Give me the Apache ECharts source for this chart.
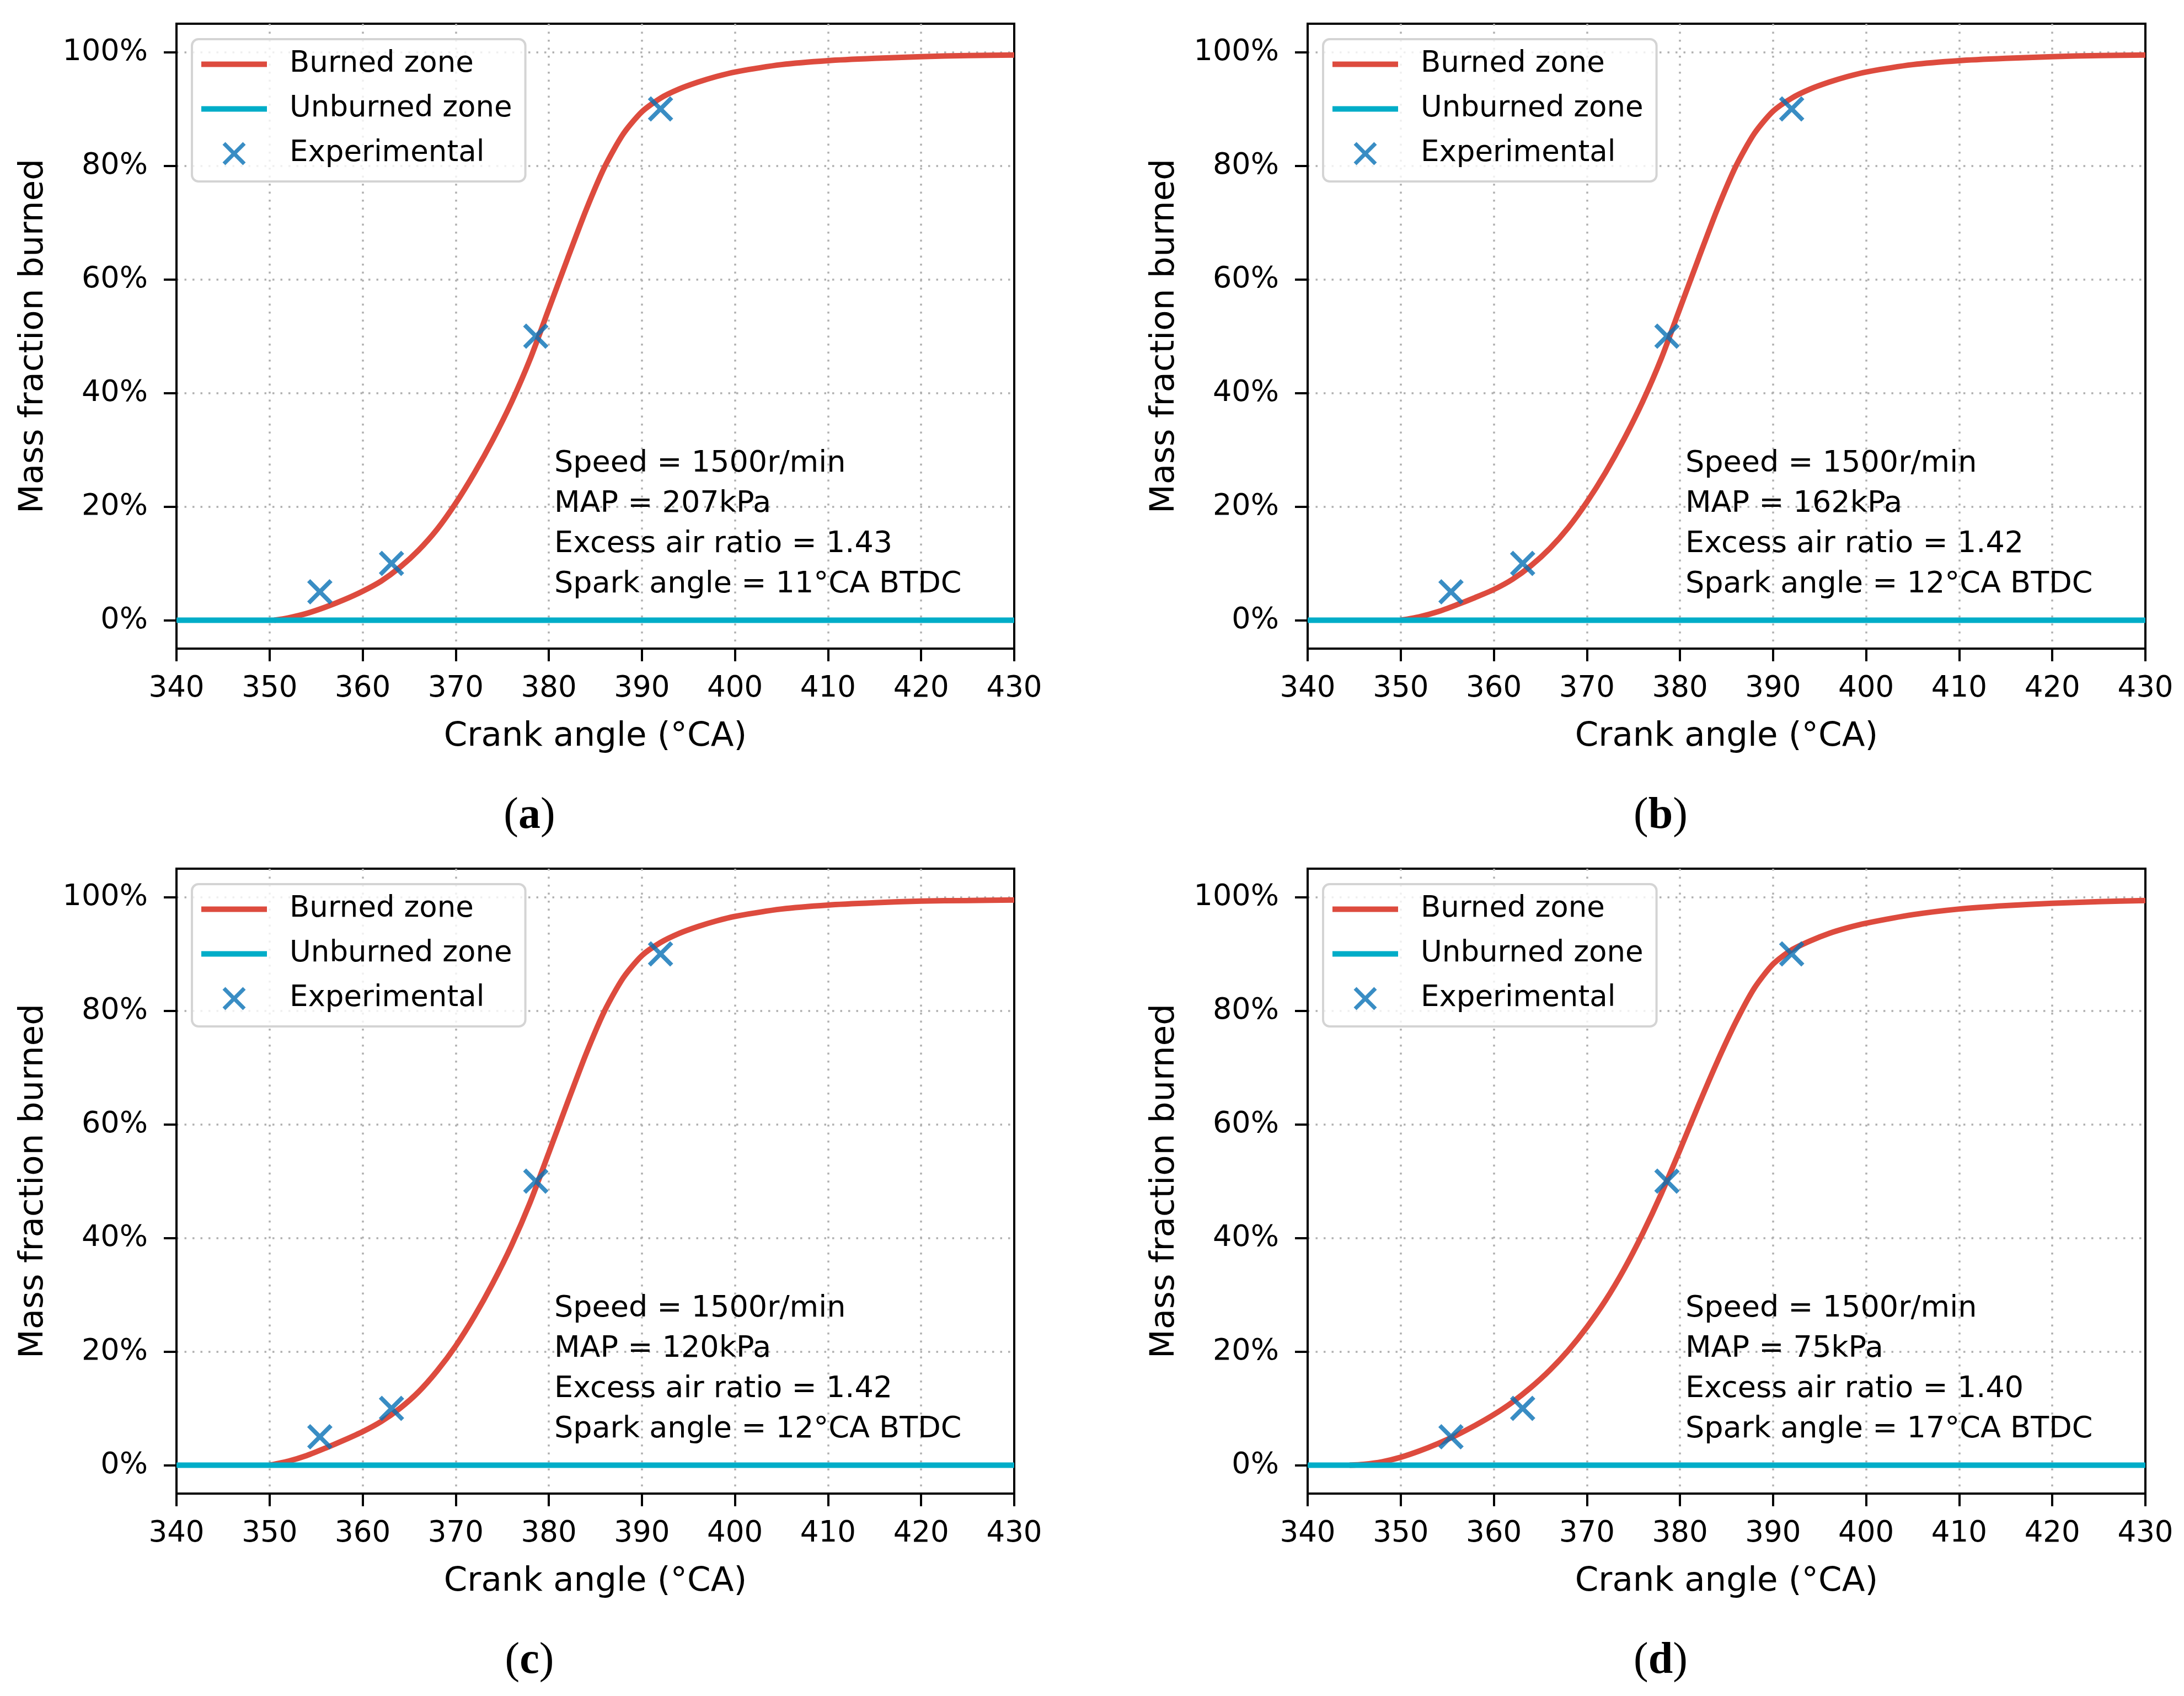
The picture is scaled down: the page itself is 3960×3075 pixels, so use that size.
<!DOCTYPE html>
<html>
<head>
<meta charset="utf-8">
<script src="https://cdn.jsdelivr.net/npm/echarts@6/dist/echarts.min.js"></script>
<style>
html,body{margin:0;padding:0;background:#fff;}
#chart{width:3960px;height:3075px;}
</style>
</head>
<body>
<div id="chart"></div>
<script>
// ---- data ----
const xTickMin = 340, xTickMax = 430, xTickStep = 10;
const yTickValues = [0, 20, 40, 60, 80, 100];

const burnedA = [[350.5,0],[352,0.4],[354,1.2],[356,2.3],[358,3.6],[360,5.1],[362,6.9],[364,9.3],[366,12.3],[368,16.0],[370,20.6],[372,25.9],[374,31.8],[376,38.4],[378,46.0],[380,54.8],[382,63.6],[384,72.2],[386,79.8],[388,85.6],[390,89.5],[392,91.9],[394,93.5],[396,94.7],[398,95.7],[400,96.5],[405,97.8],[410,98.5],[415,98.9],[420,99.2],[425,99.4],[430,99.5]];
const burnedB = [[350,0],[352,0.6],[354,1.5],[356,2.7],[358,4.0],[360,5.4],[362,7.2],[364,9.6],[366,12.6],[368,16.3],[370,20.8],[372,26.0],[374,31.9],[376,38.5],[378,46.1],[380,54.9],[382,63.7],[384,72.3],[386,79.9],[388,85.7],[390,89.6],[392,91.9],[394,93.5],[396,94.7],[398,95.7],[400,96.5],[405,97.8],[410,98.5],[415,98.9],[420,99.2],[425,99.4],[430,99.5]];
const burnedC = [[350,0],[352,0.7],[354,1.7],[356,3.0],[358,4.4],[360,5.9],[362,7.7],[364,10.0],[366,12.9],[368,16.6],[370,21.0],[372,26.2],[374,32.1],[376,38.7],[378,46.3],[380,55.0],[382,63.8],[384,72.4],[386,80.0],[388,85.8],[390,89.7],[392,92.0],[394,93.6],[396,94.8],[398,95.8],[400,96.6],[405,97.9],[410,98.6],[415,99.0],[420,99.3],[425,99.4],[430,99.5]];
const burnedD = [[344.5,0],[346,0.15],[348,0.6],[350,1.4],[352,2.5],[354,3.8],[356,5.3],[358,7.0],[360,8.9],[362,11.1],[364,13.7],[366,16.7],[368,20.2],[370,24.3],[372,29.0],[374,34.5],[376,40.8],[378,47.8],[380,55.5],[382,63.4],[384,71.0],[386,78.0],[388,84.0],[390,88.2],[392,90.7],[394,92.3],[396,93.6],[398,94.6],[400,95.4],[405,96.9],[410,97.9],[415,98.5],[420,98.9],[425,99.2],[430,99.4]];

const unburnedX = [340, 430];
const unburnedY = [0, 0];

const expA = [[355.4,5],[363.1,10],[378.6,50],[392.0,90]];
const expB = [[355.4,5],[363.1,10],[378.6,50],[392.0,90]];
const expC = [[355.4,5],[363.1,10],[378.6,50],[392.0,90]];
const expD = [[355.4,5],[363.1,10],[378.6,50],[392.0,90]];

const notesA = ['Speed = 1500r/min', 'MAP = 207kPa', 'Excess air ratio = 1.43', 'Spark angle = 11°CA BTDC'];
const notesB = ['Speed = 1500r/min', 'MAP = 162kPa', 'Excess air ratio = 1.42', 'Spark angle = 12°CA BTDC'];
const notesC = ['Speed = 1500r/min', 'MAP = 120kPa', 'Excess air ratio = 1.42', 'Spark angle = 12°CA BTDC'];
const notesD = ['Speed = 1500r/min', 'MAP = 75kPa', 'Excess air ratio = 1.40', 'Spark angle = 17°CA BTDC'];

const captions = ['a', 'b', 'c', 'd'];
const seriesNames = ['Burned zone', 'Unburned zone', 'Experimental'];
const xTitle = 'Crank angle (°CA)';
const yTitle = 'Mass fraction burned';

// ---- layout / style ----
const FONT = 'DejaVu Sans';
const RED = '#dd4b3e', CYAN = '#00adc8', BLUE = '#0870b5';
const gridW = 1519, gridH = 1133;
const gridPos = [[320, 43], [2371, 43], [320, 1575], [2371, 1575]];
const burnedAll = [burnedA, burnedB, burnedC, burnedD];
const expAll = [expA, expB, expC, expD];
const notesAll = [notesA, notesB, notesC, notesD];
const XPATH = 'path://M0,12 L12,0 L50,38 L88,0 L100,12 L62,50 L100,88 L88,100 L50,62 L12,100 L0,88 L38,50 Z';
const LINEICON = 'path://M0,0 L119,0 L119,10 L0,10 Z';

const grids = [], xAxes = [], yAxes = [], series = [], legends = [];
gridPos.forEach((p, i) => {
  grids.push({left: p[0], top: p[1], width: gridW, height: gridH, show: true,
    borderColor: '#000', borderWidth: 4, backgroundColor: 'transparent', containLabel: false});
  xAxes.push({type: 'value', gridIndex: i, min: xTickMin, max: xTickMax, interval: xTickStep,
    name: xTitle, nameLocation: 'middle', nameGap: 130,
    nameTextStyle: {fontSize: 61, fontFamily: FONT, color: '#000'},
    axisLine: {show: true, onZero: false, lineStyle: {color: '#000', width: 4}},
    axisTick: {show: true, inside: false, length: 23, lineStyle: {color: '#000', width: 4}},
    axisLabel: {fontSize: 53, fontFamily: FONT, color: '#000', margin: 47, showMinLabel: true, showMaxLabel: true},
    splitLine: {show: true, showMinLine: false, showMaxLine: false, lineStyle: {color: '#b0b0b0', width: 3.5, type: [3.5, 11]}}
  });
  yAxes.push({type: 'value', gridIndex: i, min: -5, max: 105,
    name: yTitle, nameLocation: 'middle', nameGap: 228, nameRotate: 90,
    nameTextStyle: {fontSize: 61, fontFamily: FONT, color: '#000'},
    axisLine: {show: true, onZero: false, lineStyle: {color: '#000', width: 4}},
    axisTick: {show: true, inside: false, length: 23, lineStyle: {color: '#000', width: 4}, customValues: yTickValues},
    axisLabel: {fontSize: 54, fontFamily: FONT, color: '#000', margin: 52, formatter: '{value}%', customValues: yTickValues},
    splitLine: {show: true, lineStyle: {color: '#b0b0b0', width: 3.5, type: [3.5, 11]}}
  });
  series.push({name: seriesNames[0], type: 'line', xAxisIndex: i, yAxisIndex: i,
    data: burnedAll[i], smooth: 0.25, symbol: 'none', showSymbol: false,
    lineStyle: {color: RED, width: 10}, itemStyle: {color: RED}, z: 3});
  series.push({name: seriesNames[1], type: 'line', xAxisIndex: i, yAxisIndex: i,
    data: unburnedX.map((x, k) => [x, unburnedY[k]]), symbol: 'none', showSymbol: false,
    lineStyle: {color: CYAN, width: 10}, itemStyle: {color: CYAN}, z: 4});
  series.push({name: seriesNames[2], type: 'scatter', xAxisIndex: i, yAxisIndex: i,
    data: expAll[i], symbol: XPATH, symbolSize: 46, itemStyle: {color: BLUE}, z: 5});
  legends.push({show: true, orient: 'vertical', left: p[0] + 28, top: p[1] + 28,
    data: [{name: seriesNames[0], icon: LINEICON}, {name: seriesNames[1], icon: LINEICON}, {name: seriesNames[2], icon: XPATH}],
    selectedMode: false,
    itemWidth: 119, itemHeight: 42, itemGap: 28,
    itemStyle: {borderWidth: 0},
    padding: [19, 24, 24, 17],
    backgroundColor: 'rgba(255,255,255,0.8)', borderColor: '#d4d4d4', borderWidth: 4, borderRadius: 12,
    textStyle: {fontSize: 53, fontFamily: FONT, color: '#000', padding: [0, 0, 0, 36]}
  });
});

const chart = echarts.init(document.getElementById('chart'), null, {renderer: 'canvas'});
chart.setOption({
  animation: false,
  backgroundColor: '#fff',
  grid: grids, xAxis: xAxes, yAxis: yAxes, series: series, legend: legends
});

const graphics = [];
gridPos.forEach((p, i) => {
  const pt = chart.convertToPixel({gridIndex: i}, [380.58, 31.1]);
  graphics.push({type: 'text', x: pt[0], y: pt[1], z: 10, silent: true,
    style: {text: notesAll[i].join('\n'), fontSize: 54, fontFamily: FONT, fill: '#000',
      lineHeight: 73, align: 'left', verticalAlign: 'top'}});
  graphics.push({type: 'text', x: p[0] + 640, y: p[1] + 1437, z: 10, silent: true,
    style: {text: '{p|(}{b|' + captions[i] + '}{p|)}', align: 'center', verticalAlign: 'middle',
      rich: {p: {fontSize: 80, fontFamily: 'Liberation Serif', fill: '#000'},
             b: {fontSize: 80, fontFamily: 'Liberation Serif', fontWeight: 'bold', fill: '#000'}}}});
});
chart.setOption({graphic: graphics});
</script>
</body>
</html>
